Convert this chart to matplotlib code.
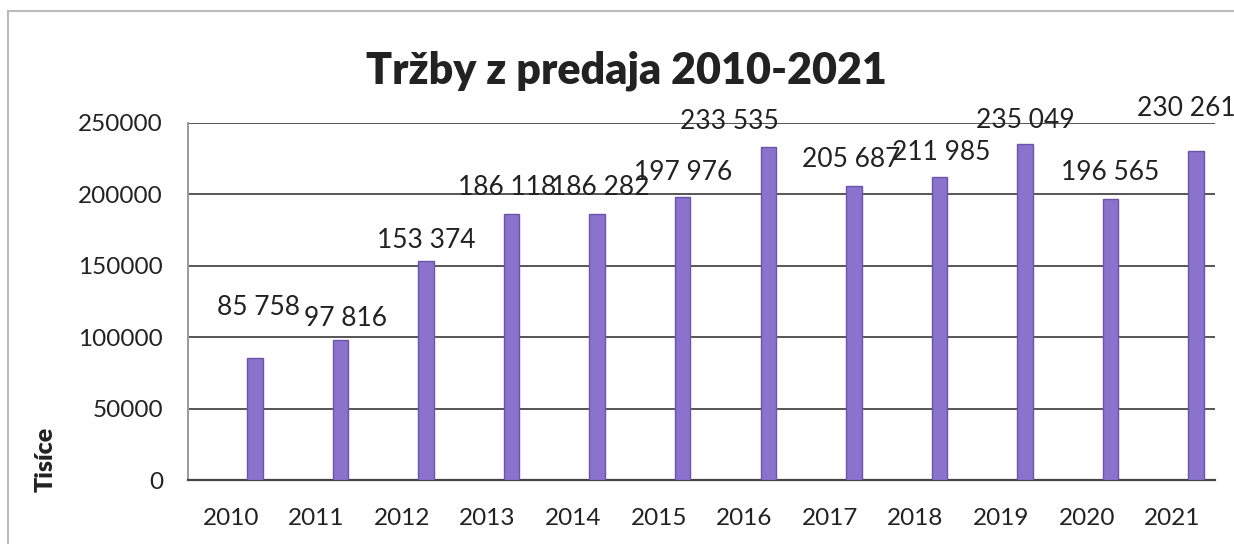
import matplotlib.pyplot as plt
from matplotlib.patches import Rectangle

# data
years = ["2010", "2011", "2012", "2013", "2014", "2015",
         "2016", "2017", "2018", "2019", "2020", "2021"]
sales = [85758, 97816, 153374, 186118, 186282, 197976,
         233535, 205687, 211985, 235049, 196565, 230261]
value_labels = ["85 758", "97 816", "153 374", "186 118", "186 282", "197 976",
                "233 535", "205 687", "211 985", "235 049", "196 565", "230 261"]

# label nudges in points (dx, dy) relative to bar top
label_offsets = [(3, 36), (4, 16), (0, 15), (-3, 19), (2, 19), (0, 18),
                 (-28, 18), (-2, 19), (1, 18), (0, 17), (0, 19), (-7, 31)]

plt.rcParams["font.family"] = ["Lato", "DejaVu Sans"]
text_color = "#222222"

fig = plt.figure(figsize=(12.34, 5.44), dpi=100)
ax = fig.add_axes([0.1524, 0.1176, 0.8322, 0.6563])

# outer chart border
fig.patches.append(Rectangle((0.0065, -0.01), 1.2, 0.99, transform=fig.transFigure,
                             fill=False, edgecolor="#bbbbbb", linewidth=1.5))

x = list(range(len(years)))
bar_x = [i + 0.28 for i in x]

ax.bar(bar_x, sales, width=0.18, color="#8b72cc", edgecolor="#6b55ab",
       linewidth=1.0, zorder=3)

for bx, v, lab, (dx, dy) in zip(bar_x, sales, value_labels, label_offsets):
    ax.annotate(lab, xy=(bx, v), xytext=(dx, dy), textcoords="offset points",
                ha="center", va="center", fontsize=19, color=text_color, zorder=4)

ax.set_xlim(-0.5, 11.5)
ax.set_ylim(0, 250000)
ax.set_yticks([0, 50000, 100000, 150000, 200000, 250000])
ax.set_yticklabels(["0", "50000", "100000", "150000", "200000", "250000"])
ax.set_xticks(x)
ax.set_xticklabels(years)
ax.tick_params(axis="both", length=0, labelsize=17.5, colors=text_color)
ax.tick_params(axis="y", pad=18)
ax.tick_params(axis="x", pad=20)

ax.yaxis.grid(True, color="#555555", linewidth=1.4, zorder=0)
ax.set_axisbelow(True)
for side in ["right", "top"]:
    ax.spines[side].set_visible(False)
ax.spines["left"].set_color("#999999")
ax.spines["left"].set_linewidth(1.4)
ax.spines["bottom"].set_color("#444444")
ax.spines["bottom"].set_linewidth(1.6)

fig.text(0.508, 0.87, "Tržby z predaja 2010-2021", ha="center", va="center",
         fontsize=31, fontweight="heavy", color=text_color)
fig.text(0.037, 0.155, "Tisíce", rotation=90, ha="center", va="center",
         fontsize=18, fontweight="heavy", color=text_color)

plt.savefig("out.png", dpi=100)
plt.close(fig)
